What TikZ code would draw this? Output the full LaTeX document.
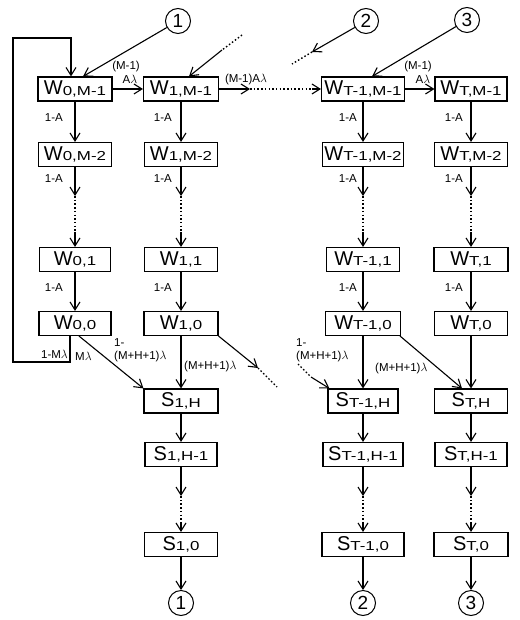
\documentclass[tikz,border=0pt]{standalone}
\usepackage{fontspec}
\setmainfont{Liberation Sans}
\usetikzlibrary{arrows.meta,calc}
\newcommand\boxlab[2]{#1\raisebox{-0.5pt}{\scalebox{1.3}[1]{\fontsize{13}{13}\selectfont #2}}}
\tikzset{
  st/.style={draw, line width=1.1pt, minimum height=24pt, inner sep=0.5pt, font=\fontsize{20}{20}\selectfont},
  circ/.style={draw, circle, line width=1pt, minimum size=25pt, inner sep=0pt, font=\fontsize{19}{19}\selectfont},
  lbl/.style={font=\fontsize{11.5}{11.5}\selectfont, inner sep=0pt},
  ar/.style={line width=1.1pt, -{Straight Barb[length=8pt,width=10pt]}},
  ln/.style={line width=1.1pt},
  dt/.style={line width=1.4pt, dash pattern=on 1.5pt off 2.2pt},
}
\begin{document}
\begin{tikzpicture}[x=1pt,y=-1pt]
\useasboundingbox (0,0) rectangle (519,620);
% column 0
\node[st, minimum width=74pt] (W0a) at (75,89) {\boxlab{W}{0,M-1}};
\node[st, minimum width=73pt] (W0b) at (75,154.5) {\boxlab{W}{0,M-2}};
\node[st, minimum width=71pt] (W0c) at (75,259.5) {\boxlab{W}{0,1}};
\node[st, minimum width=72pt] (W0d) at (75,323.5) {\boxlab{W}{0,0}};
% column 1
\node[st, minimum width=75pt] (W1a) at (181,89) {\boxlab{W}{1,M-1}};
\node[st, minimum width=73pt] (W1b) at (181,154.5) {\boxlab{W}{1,M-2}};
\node[st, minimum width=73pt] (W1c) at (181,259.5) {\boxlab{W}{1,1}};
\node[st, minimum width=74pt] (W1d) at (181,323.5) {\boxlab{W}{1,0}};
\node[st, minimum width=74pt] (S1a) at (181,401) {\boxlab{S}{1,H}};
\node[st, minimum width=72pt] (S1b) at (181,454.5) {\boxlab{S}{1,H-1}};
\node[st, minimum width=73pt] (S1c) at (181,544.5) {\boxlab{S}{1,0}};
% column T-1
\node[st, minimum width=83pt] (Wpa) at (363,89) {\boxlab{W}{T-1,M-1}};
\node[st, minimum width=81pt] (Wpb) at (363,154.5) {\boxlab{W}{T-1,M-2}};
\node[st, minimum width=73pt] (Wpc) at (363,259.5) {\boxlab{W}{T-1,1}};
\node[st, minimum width=75pt] (Wpd) at (363,323.5) {\boxlab{W}{T-1,0}};
\node[st, minimum width=70pt] (Spa) at (363,401) {\boxlab{S}{T-1,H}};
\node[st, minimum width=80pt] (Spb) at (363,454.5) {\boxlab{S}{T-1,H-1}};
\node[st, minimum width=82pt] (Spc) at (363,544.5) {\boxlab{S}{T-1,0}};
% column T
\node[st, minimum width=72pt] (WTa) at (471,89) {\boxlab{W}{T,M-1}};
\node[st, minimum width=73pt] (WTb) at (471,154.5) {\boxlab{W}{T,M-2}};
\node[st, minimum width=74pt] (WTc) at (471,259.5) {\boxlab{W}{T,1}};
\node[st, minimum width=73pt] (WTd) at (471,323.5) {\boxlab{W}{T,0}};
\node[st, minimum width=73pt] (STa) at (471,401) {\boxlab{S}{T,H}};
\node[st, minimum width=72pt] (STb) at (471,454.5) {\boxlab{S}{T,H-1}};
\node[st, minimum width=74pt] (STc) at (471,544.5) {\boxlab{S}{T,0}};
% circles
\node[circ] (C1t) at (178,21) {1};
\node[circ] (C2t) at (366,21) {2};
\node[circ] (C3t) at (467,20) {3};
\node[circ] (C1b) at (181,603) {1};
\node[circ] (C2b) at (363,603) {2};
\node[circ] (C3b) at (471,603) {3};

% vertical chains
\foreach \c in {0,1,p,T}{
  \draw[ar] (W\c a) -- (W\c b);
  \coordinate (d\c a) at ($(W\c b.south)+(0,29)$);
  \coordinate (d\c b) at ($(W\c b.south)+(0,65)$);
  \draw[ar] (W\c b) -- (d\c a);
  \draw[dt] (d\c a) -- (d\c b);
  \draw[ar] (d\c b) -- (W\c c);
  \draw[ar] (W\c c) -- (W\c d);
}
\foreach \c in {1,p,T}{
  \draw[ar] (W\c d) -- (S\c a);
  \draw[ar] (S\c a) -- (S\c b);
  \coordinate (e\c a) at ($(S\c b.south)+(0,29)$);
  \coordinate (e\c b) at ($(S\c b.south)+(0,55)$);
  \draw[ar] (S\c b) -- (e\c a);
  \draw[dt] (e\c a) -- (e\c b);
  \draw[ar] (e\c b) -- (S\c c);
}
\draw[ar] (S1c) -- (C1b);
\draw[ar] (Spc) -- (C2b);
\draw[ar] (STc) -- (C3b);

% "1-A" labels
\foreach \c/\x in {0/63,1/172,p/357,T/463}{
  \node[lbl, anchor=east] (a\c 1) at (\x,118) {1-A};
  \node[lbl, anchor=east] (a\c 2) at (\x,179) {1-A};
  \node[lbl, anchor=east] (a\c 3) at (\x,288) {1-A};
}

% top horizontal arrows
\draw[ar] (W0a) -- (W1a);
\node[lbl] (l01a) at (126,67) {(M-1)};
\node[lbl] (l01b) at (130,79) {A$\lambda$};
\coordinate (h1) at (250,89);
\coordinate (h2) at (312,89);
\draw[ar] (W1a.east) -- (h1);
\draw[dt] (h1) -- (h2);
\draw[ar] (h2) -- (Wpa.west);
\node[lbl] (l1p) at (246,80) {(M-1)A$\lambda$};
\draw[ar] (Wpa) -- (WTa);
\node[lbl] (lpTa) at (418,67) {(M-1)};
\node[lbl] (lpTb) at (423,79) {A$\lambda$};

% top inputs
\draw[ar] (C1t) -- ($(W0a.north)+(8,0)$);
\coordinate (t1a) at (242,35);
\coordinate (t1b) at (222,50);
\draw[dt] (t1a) -- (t1b);
\draw[ar] (t1b) -- ($(W1a.north)+(8,0)$);
\coordinate (t2a) at (312,52);
\coordinate (t2b) at (292,64);
\draw[ar] (C2t) -- (t2a);
\draw[dt] (t2a) -- (t2b);
\draw[ar] (C3t) -- ($(Wpa.north)+(9,0)$);

% feedback loop
\coordinate (fb1) at (70,362);
\coordinate (fb2) at (13,362);
\coordinate (fb3) at (13,38);
\coordinate (fb4) at (71,38);
\draw[ar, line join=miter] ($(W0d.south)+(-5,0)$) -- (fb1) -- (fb2) -- (fb3) -- (fb4) -- ($(W0a.north)+(-4,0)$);
\node[lbl, anchor=east] (lfb) at (68,354) {1-M$\lambda$};
\node[lbl, anchor=west] (lml) at (75,356) {M$\lambda$};
\draw[ar] ($(W0d.south)+(4,0)$) -- (S1a.north west);
\node[lbl, anchor=west] (l1m) at (114,343) {1-};
\node[lbl, anchor=west] (l1n) at (114,357) {(M+H+1)$\lambda$};

% W1,0 to the right
\coordinate (r1a) at (258,368);
\coordinate (r1b) at (277,387);
\draw[ar] (W1d.south east) -- (r1a);
\draw[dt] (r1a) -- (r1b);
\node[lbl, anchor=west] (l1r) at (184,367) {(M+H+1)$\lambda$};

% into S_{T-1,H}
\coordinate (q1) at (298,364);
\coordinate (q2) at (311,377);
\draw[dt] (q1) -- (q2);
\draw[ar] (q2) -- ($(Spa.north west)+(2,0)$);
\node[lbl, anchor=west] (lpm) at (296,343) {1-};
\node[lbl, anchor=west] (lpn) at (296,357) {(M+H+1)$\lambda$};

% W_{T-1,0} to S_{T,H}
\draw[ar] ($(Wpd.south east)+(-1,0)$) -- ($(STa.north)+(-9,0)$);
\node[lbl, anchor=west] (lpr) at (375,369) {(M+H+1)$\lambda$};
\end{tikzpicture}
\end{document}
